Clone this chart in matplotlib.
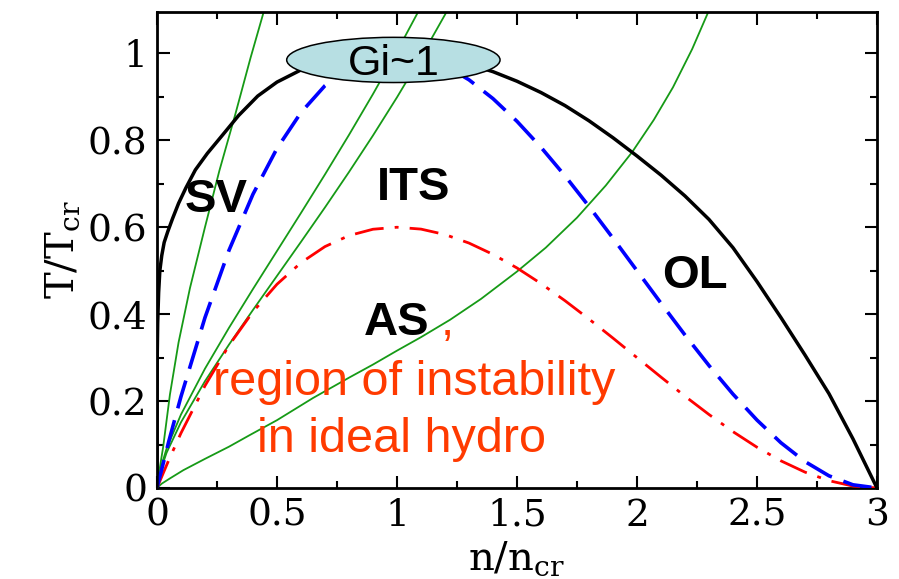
"""Phase diagram T/Tcr vs n/ncr: binodal, spinodal, isentropes and instability region."""
import matplotlib
matplotlib.use("Agg")
import matplotlib.pyplot as plt
from matplotlib.patches import Ellipse
from matplotlib.ticker import MultipleLocator, FuncFormatter

plt.rcParams["font.family"] = "DejaVu Serif"
plt.rcParams["mathtext.fontset"] = "dejavuserif"

# binodal (black, solid)
bin_n = [0, 0.0002, 0.001, 0.003, 0.007, 0.012, 0.02, 0.03, 0.045, 0.065, 0.09, 0.12,
         0.16, 0.21, 0.27, 0.34, 0.42, 0.5, 0.6, 0.7, 0.8, 0.9, 1.0, 1.1, 1.2, 1.3, 1.4,
         1.5, 1.6, 1.7, 1.8, 1.9, 2.0, 2.1, 2.2, 2.3, 2.4, 2.5, 2.6, 2.7, 2.8, 2.9, 3.0]
bin_T = [0, 0.20, 0.30, 0.38, 0.45, 0.50, 0.535, 0.565, 0.59, 0.62, 0.655, 0.69,
         0.732, 0.77, 0.81, 0.857, 0.902, 0.934, 0.962, 0.981, 0.993, 0.999, 1.0, 0.997,
         0.988, 0.975, 0.958, 0.936, 0.91, 0.88, 0.845, 0.806, 0.764, 0.72, 0.672, 0.618,
         0.553, 0.475, 0.392, 0.306, 0.217, 0.113, 0]

# spinodal (blue, dashed) and instability boundary (red, dash-dot)
sp_n = [0, 0.05, 0.1, 0.2, 0.3, 0.4, 0.5, 0.6, 0.7, 0.8, 0.9, 1.0, 1.1, 1.2, 1.3, 1.4, 1.5,
        1.6, 1.7, 1.8, 1.9, 2.0, 2.1, 2.2, 2.3, 2.4, 2.5, 2.6, 2.7, 2.8, 2.9, 3.0]
sp_T = [0, 0.1088, 0.2103, 0.392, 0.5468, 0.676, 0.7813, 0.864, 0.9258, 0.968, 0.9923, 1.0,
        0.9928, 0.972, 0.9393, 0.896, 0.8438, 0.784, 0.7183, 0.648, 0.5748, 0.5, 0.4253,
        0.352, 0.2818, 0.216, 0.1563, 0.104, 0.0608, 0.028, 0.0073, 0]
ins_T = [0, 0.0653, 0.1262, 0.2352, 0.3281, 0.4056, 0.4688, 0.5184, 0.5555, 0.5808, 0.5954,
         0.6, 0.5957, 0.5832, 0.5636, 0.5376, 0.5063, 0.4704, 0.431, 0.3888, 0.3449, 0.3,
         0.2552, 0.2112, 0.1691, 0.1296, 0.0938, 0.0624, 0.0365, 0.0168, 0.0044, 0]

# isentropes (green)
isa_n = [0, 0.01, 0.026, 0.054, 0.09, 0.1375, 0.2, 0.26, 0.325, 0.39, 0.46]
isa_T = [0, 0.04, 0.095, 0.215, 0.335, 0.46, 0.60, 0.73, 0.857, 0.99, 1.125]
isb_n = [0, 0.01, 0.04, 0.1, 0.2, 0.3, 0.4, 0.5, 0.6, 0.7, 0.8, 0.9, 1.0, 1.1, 1.15]
isb_T = [0, 0.0357, 0.0905, 0.169, 0.2745, 0.3685, 0.4578, 0.5453, 0.6328, 0.7215,
         0.8124, 0.9064, 1.0045, 1.1077, 1.1615]
isc_n = [0, 0.01, 0.04, 0.1, 0.2, 0.3, 0.4, 0.5, 0.6, 0.7, 0.8, 0.9, 1.0, 1.1, 1.2, 1.25]
isc_T = [0, 0.0319, 0.081, 0.1512, 0.2457, 0.3298, 0.4097, 0.488, 0.5663, 0.6456, 0.727,
         0.8111, 0.8989, 0.9912, 1.089, 1.1402]
isd_n = [0, 0.02, 0.054, 0.11, 0.2, 0.3, 0.3875, 0.5, 0.65, 0.804, 0.9, 1.0, 1.1, 1.221,
         1.35, 1.5, 1.62, 1.75, 1.87, 1.98, 2.07, 2.15, 2.23, 2.3, 2.32]
isd_T = [0, 0.01, 0.022, 0.041, 0.067, 0.095, 0.122, 0.156, 0.207, 0.255, 0.284, 0.316,
         0.347, 0.387, 0.435, 0.498, 0.553, 0.622, 0.696, 0.773, 0.847, 0.922, 1.01,
         1.099, 1.13]

green = "#169a16"
red_txt = "#ff3a00"
sans = "Liberation Sans"

fig = plt.figure(figsize=(8.99, 5.79), dpi=100)
ax = fig.add_axes([0.1746, 0.1572, 0.8009, 0.8226])

for xs, ys in [(isa_n, isa_T), (isb_n, isb_T), (isc_n, isc_T), (isd_n, isd_T)]:
    ax.plot(xs, ys, color=green, lw=1.3, zorder=2)
ax.plot(sp_n, ins_T, color="#ff0000", lw=2.0, dashes=(10.5, 4.0, 1.4, 4.0), zorder=3)
ax.plot(sp_n, sp_T, color="#0000ff", lw=2.6, dashes=(8.0, 3.4), zorder=3)
ax.plot(bin_n, bin_T, color="black", lw=2.5, zorder=4)

ax.add_patch(Ellipse((0.985, 0.985), 0.889, 0.104, facecolor="#b7dfe3",
                     edgecolor="black", lw=1.1, zorder=6))
ax.text(0.985, 0.985, "Gi~1", family=sans, fontsize=31, ha="center",
        va="center_baseline", zorder=7)

bold = dict(family=sans, fontsize=34, fontweight="bold", ha="left", va="baseline", zorder=8)
ax.text(0.117, 0.635, "SV", **bold)
ax.text(0.915, 0.6625, "ITS", **bold)
ax.text(2.103, 0.46, "OL", **bold)
ax.text(0.86, 0.352, "AS", **bold)
ax.text(1.183, 0.352, ",", family=sans, fontsize=34, color=red_txt, ha="left",
        va="baseline", zorder=8)
ax.text(0.233, 0.214, "region of instability", family=sans, fontsize=35, color=red_txt,
        ha="left", va="baseline", zorder=8)
ax.text(0.417, 0.0835, "in ideal hydro", family=sans, fontsize=35, color=red_txt,
        ha="left", va="baseline", zorder=8)

ax.set_xlim(0, 3)
ax.set_ylim(0, 1.096)
ax.xaxis.set_major_locator(MultipleLocator(0.5))
ax.xaxis.set_minor_locator(MultipleLocator(0.25))
ax.yaxis.set_major_locator(MultipleLocator(0.2))
ax.yaxis.set_minor_locator(MultipleLocator(0.1))
fmt = FuncFormatter(lambda v, p: "%g" % round(v, 2))
ax.xaxis.set_major_formatter(fmt)
ax.yaxis.set_major_formatter(fmt)
ax.tick_params(which="both", direction="in", top=True, right=True, width=1.5,
               labelsize=27, pad=7)
ax.tick_params(which="major", length=9)
ax.tick_params(which="minor", length=5)
for s in ax.spines.values():
    s.set_linewidth(2.0)

ax.set_xlabel(r"n/n$_{\rm cr}$", fontsize=29, labelpad=4)
ax.set_ylabel(r"T/T$_{\rm cr}$", fontsize=29, labelpad=4)

fig.savefig("out.png", dpi=100)
